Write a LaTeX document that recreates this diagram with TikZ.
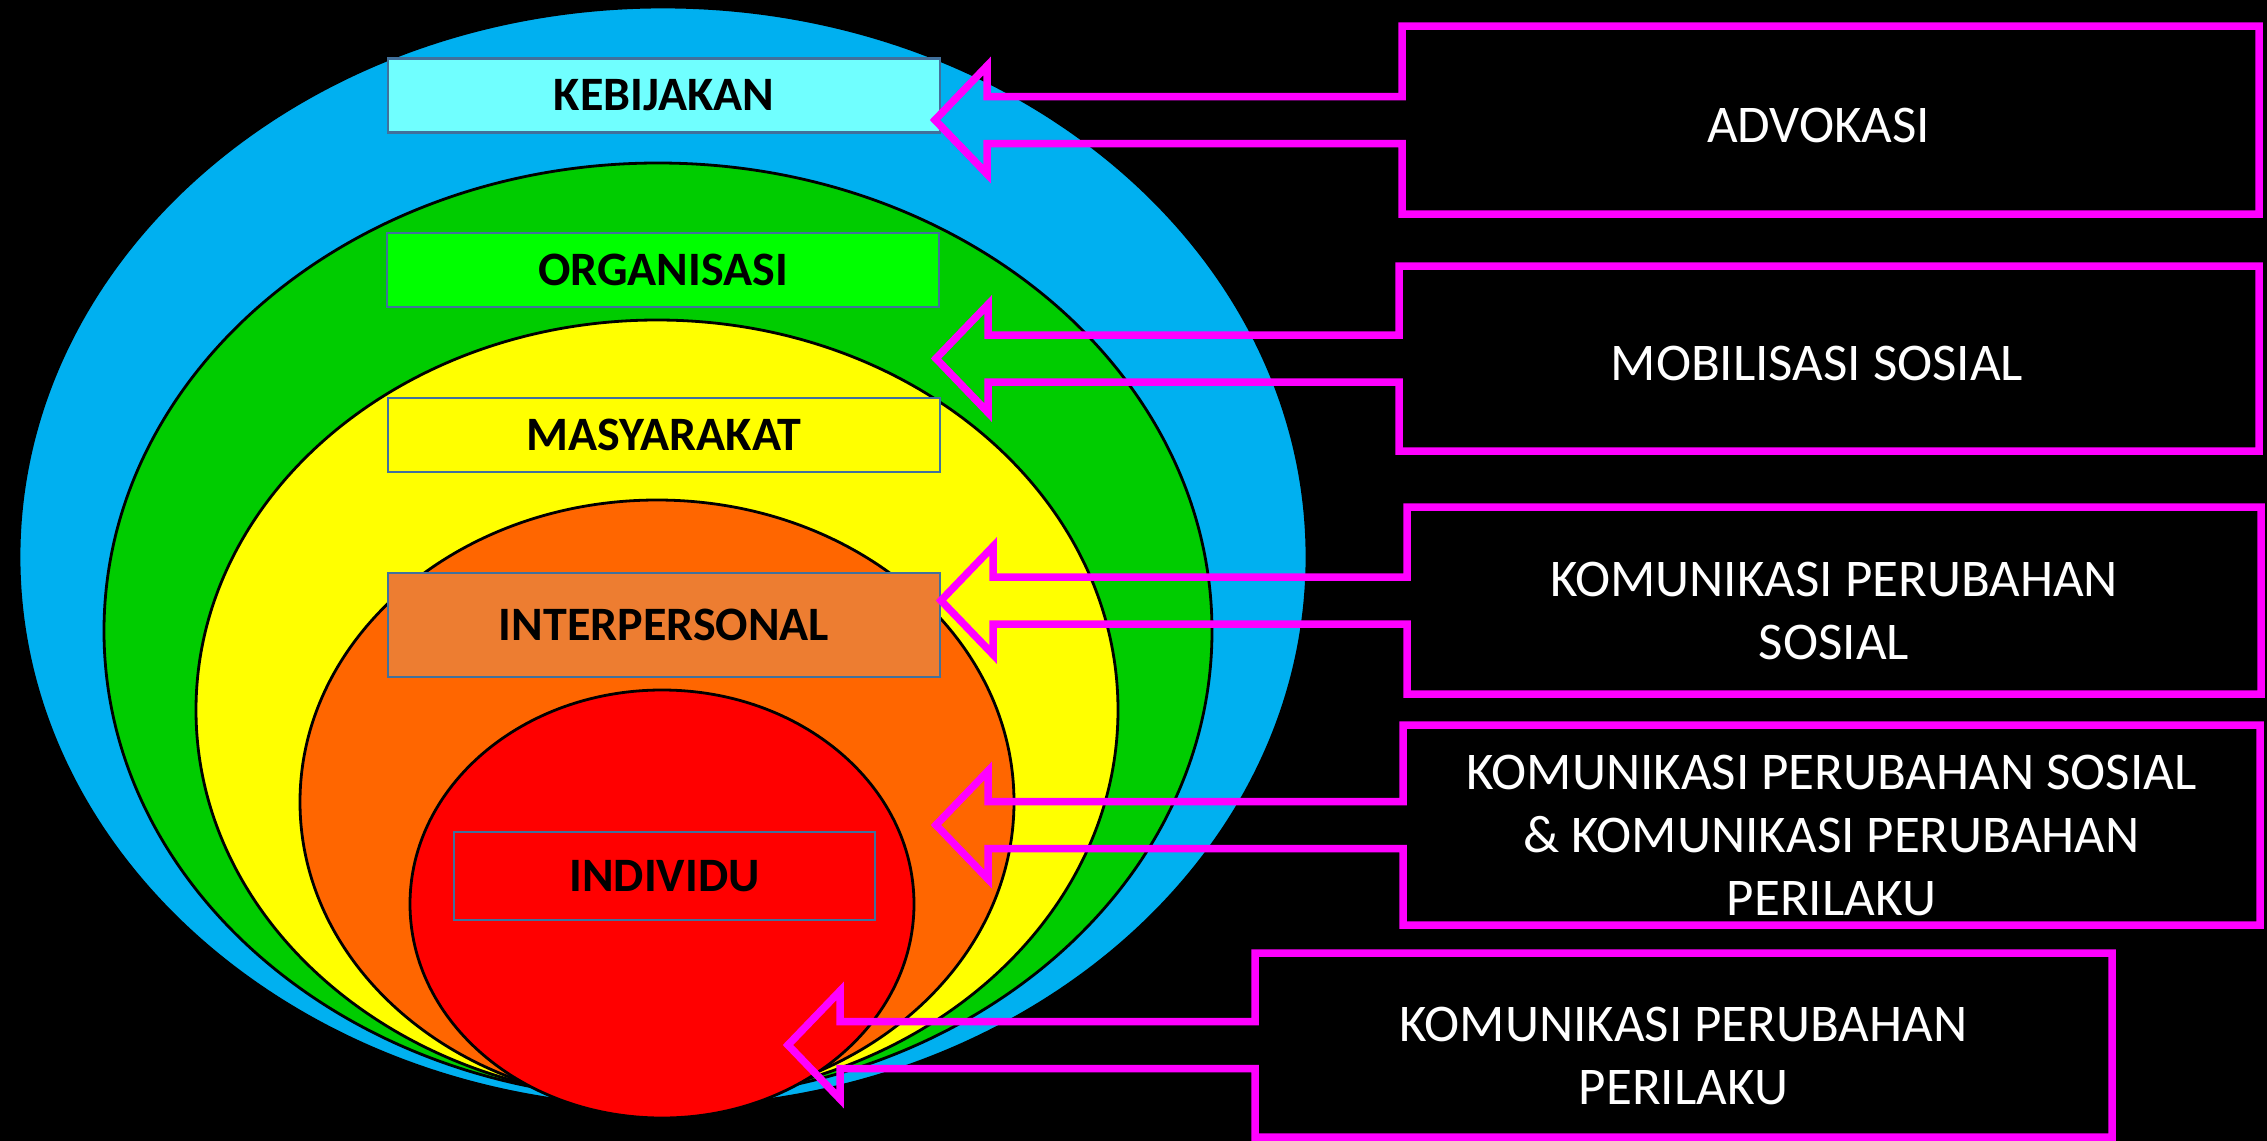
\documentclass[tikz,border=0pt]{standalone}
\usepackage{fontspec}
\setmainfont{Carlito}
\usepackage{tikz}
\usetikzlibrary{calc}

\definecolor{ringblue}{HTML}{00B0F0}
\definecolor{ringgreen}{HTML}{00CC00}
\definecolor{ringyellow}{HTML}{FFFF00}
\definecolor{ringorange}{HTML}{FF6600}
\definecolor{ringred}{HTML}{FF0000}
\definecolor{tierline}{HTML}{41719C}
\definecolor{kebfill}{HTML}{70FFFF}
\definecolor{orgfill}{HTML}{00FF00}
\definecolor{interfill}{HTML}{ED7D31}
\definecolor{calloutpink}{HTML}{FF00FF}

\newcommand{\dropline}[1][1.05em]{\rule{0pt}{#1}}

\begin{document}
\begin{tikzpicture}[x=0.5pt, y=-0.5pt,
    ring/.style={draw=black, line width=1.4pt},
    tier/.style={draw=tierline, line width=1.2pt, minimum width=276pt, minimum height=37pt, inner sep=0pt, outer sep=0pt, font=\bfseries\fontsize{24pt}{28pt}\selectfont},
    callbox/.style={minimum width=428.5pt, inner sep=0pt, outer sep=0pt, align=center, text=white, font=\fontsize{26.5pt}{31.5pt}\selectfont},
    callout/.style={draw=calloutpink, line width=3.75pt, line join=miter}
  ]
    \fill[black] (0,0) rectangle (2267,1141);
    \useasboundingbox (0,0) rectangle (2267,1141);

    \draw[ring, fill=ringblue] (663,557) ellipse [x radius=644, y radius=550];
    \draw[ring, fill=ringgreen] (658,631) ellipse [x radius=554, y radius=468];
    \draw[ring, fill=ringyellow] (657,710) ellipse [x radius=461, y radius=390];
    \draw[ring, fill=ringorange] (657,802) ellipse [x radius=357, y radius=302];
    \draw[ring, fill=ringred] (662,904) ellipse [x radius=252, y radius=214];

    \node[tier, fill=kebfill] (kebijakan) at (664,95.5) {KEBIJAKAN};
    \node[tier, fill=orgfill] (organisasi) at (663,270) {ORGANISASI};
    \node[tier, fill=ringyellow] (masyarakat) at (664,435) {MASYARAKAT};
    \node[tier, fill=interfill, minimum height=52pt] (interpersonal) at (664,625) {INTERPERSONAL};
    \node[tier, fill=ringred, minimum width=210.5pt, minimum height=44pt] (individu) at (664.5,876) {INDIVIDU};

    \node[callbox, minimum height=94pt] (advokasi) at (1830.5,120) {\dropline[0.85em]ADVOKASI\hspace{12pt}};
    \node[callbox, minimum width=430pt, minimum height=92.5pt] (mobilisasi) at (1829,358.5) {\dropline[0.85em]MOBILISASI SOSIAL\hspace{12pt}};
    \node[callbox, minimum width=427pt, minimum height=93.5pt] (kps) at (1834,600.5) {\dropline KOMUNIKASI PERUBAHAN\\SOSIAL};
    \node[callbox, minimum height=100pt] (kpsp) at (1831.5,825) {\dropline KOMUNIKASI PERUBAHAN SOSIAL\\\& KOMUNIKASI PERUBAHAN\\PERILAKU};
    \node[callbox, minimum height=92pt] (kpp) at (1683.5,1045) {\dropline KOMUNIKASI PERUBAHAN\\PERILAKU};

    \coordinate (tip1) at (935,120);
    \coordinate (tip2) at (936,358.5);
    \coordinate (tip3) at (941,600.5);
    \coordinate (tip4) at (936,825);
    \coordinate (tip5) at (788,1045);

    \foreach \b/\t in {advokasi/tip1, mobilisasi/tip2, kps/tip3, kpsp/tip4, kpp/tip5}
      \draw[callout] ($(\b.west)+(0,-23.5)$) -- (\b.north west) -- (\b.north east) -- (\b.south east) -- (\b.south west) -- ($(\b.west)+(0,23.5)$) -- ($(\t)+(52,23.5)$) -- ($(\t)+(52,54)$) -- (\t) -- ($(\t)+(52,-54)$) -- ($(\t)+(52,-23.5)$) -- cycle;
\end{tikzpicture}
\end{document}
